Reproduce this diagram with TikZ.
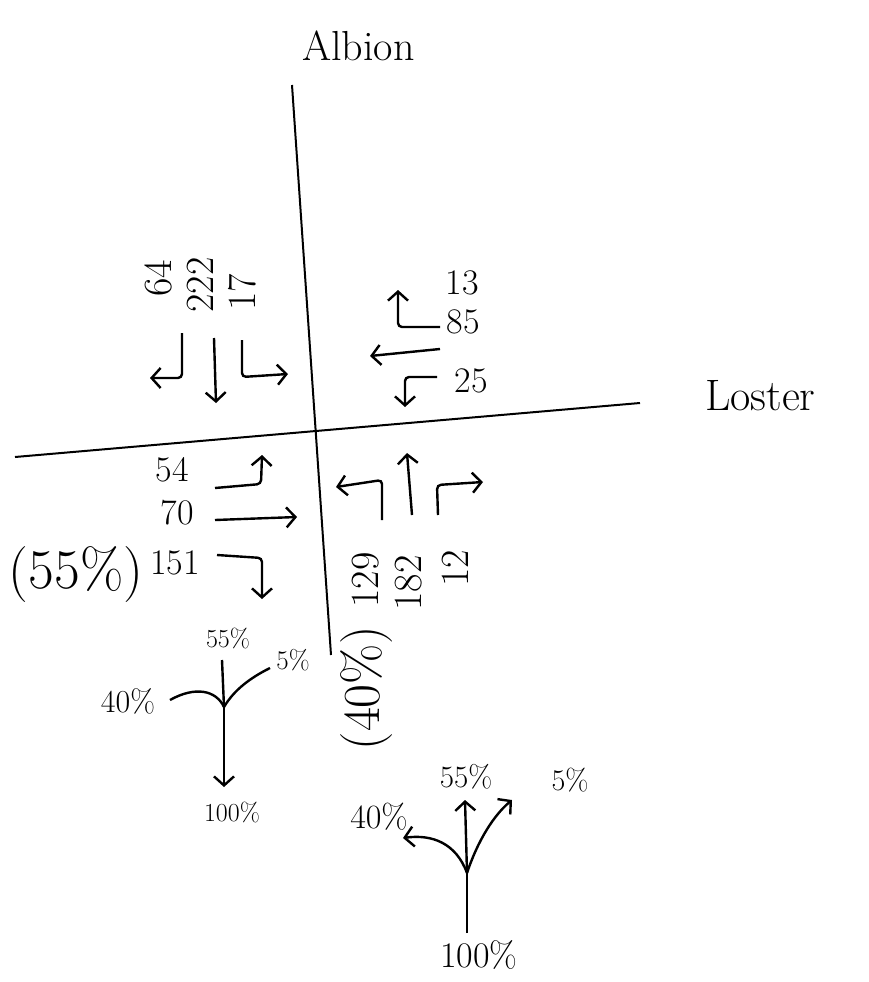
\documentclass[tikz,border=0pt]{standalone}
\usepackage{fontspec}
\usetikzlibrary{arrows.meta}
\newcommand{\fsz}[1]{\fontsize{#1}{#1}\selectfont}
\begin{document}
\begin{tikzpicture}[x=1pt,y=-1pt,
  road/.style={line width=2pt},
  mv/.style={line width=2.4pt, rounded corners=4pt, -{Straight Barb[length=9pt,width=20pt,line width=2.4pt]}},
  plainline/.style={line width=2.4pt},
  lbl/.style={inner sep=0pt, font=\fsz{36}},
  vlbl/.style={inner sep=0pt, rotate=90, font=\fsz{40}},
  pct/.style={inner sep=0pt, font=\fsz{28}}]
\useasboundingbox (0,0) rectangle (869,982);

% roads
\coordinate (aN) at (292,85); \coordinate (aS) at (331,655);
\draw[road] (aN) -- (aS);
\coordinate (lW) at (15,457); \coordinate (lE) at (640,403);
\draw[road] (lW) -- (lE);
\node[inner sep=0pt, anchor=base west, font=\fsz{42}] (albion) at (302,60) {Albion};
\node[inner sep=0pt, anchor=base west, font=\fsz{44}] (loster) at (705,410) {Loster};

% southbound (top left)
\coordinate (s1a) at (182,333); \coordinate (s1b) at (182,378); \coordinate (s1c) at (150,378);
\draw[mv] (s1a) -- (s1b) -- (s1c);
\coordinate (s2a) at (214,338); \coordinate (s2b) at (216,403);
\draw[mv] (s2a) -- (s2b);
\coordinate (s3a) at (242,340); \coordinate (s3b) at (242,377); \coordinate (s3c) at (288,374);
\draw[mv] (s3a) -- (s3b) -- (s3c);
\node[vlbl] (n64) at (158,278) {64};
\node[vlbl] (n222) at (200,285) {222};
\node[vlbl] (n17) at (242,292) {17};

% westbound (top right)
\coordinate (w1a) at (440,327); \coordinate (w1b) at (398,327); \coordinate (w1c) at (398,290);
\draw[mv] (w1a) -- (w1b) -- (w1c);
\coordinate (w2a) at (440,349); \coordinate (w2b) at (370,356);
\draw[mv] (w2a) -- (w2b);
\coordinate (w3a) at (437,377); \coordinate (w3b) at (405,377); \coordinate (w3c) at (405,407);
\draw[mv] (w3a) -- (w3b) -- (w3c);
\node[lbl] (n13) at (462,283) {13};
\node[lbl] (n85) at (463,322) {85};
\node[lbl] (n25) at (471,381) {25};

% eastbound (bottom left)
\coordinate (e1a) at (215,488); \coordinate (e1b) at (261,484); \coordinate (e1c) at (262,455);
\draw[mv] (e1a) -- (e1b) -- (e1c);
\coordinate (e2a) at (215,520); \coordinate (e2b) at (297,517);
\draw[mv] (e2a) -- (e2b);
\coordinate (e3a) at (217,555); \coordinate (e3b) at (262,558); \coordinate (e3c) at (262,599);
\draw[mv] (e3a) -- (e3b) -- (e3c);
\node[lbl] (n54) at (172,470) {54};
\node[lbl] (n70) at (177,513) {70};
\node[lbl] (n151) at (175,563) {151};
\node[inner sep=0pt, font=\fsz{56}] (p55) at (76,575) {(55\%)};

% northbound (bottom right)
\coordinate (b1a) at (382,520); \coordinate (b1b) at (382,480); \coordinate (b1c) at (336,487);
\draw[mv] (b1a) -- (b1b) -- (b1c);
\coordinate (b2a) at (412,515); \coordinate (b2b) at (407,453);
\draw[mv] (b2a) -- (b2b);
\coordinate (b3a) at (438,515); \coordinate (b3b) at (437,485); \coordinate (b3c) at (483,482);
\draw[mv] (b3a) -- (b3b) -- (b3c);
\node[vlbl] (n129) at (366,580) {129};
\node[vlbl] (n182) at (409,583) {182};
\node[vlbl] (n12) at (455,568) {12};
\node[inner sep=0pt, rotate=90, font=\fsz{52}] (p40) at (367,688) {(40\%)};

% left split
\coordinate (j1) at (224,707);
\coordinate (t1top) at (222,660); \coordinate (t1bot) at (224,787);
\coordinate (t1l) at (170,700); \coordinate (t1r) at (270,668);
\draw[plainline] (t1top) -- (j1);
\draw[mv] (j1) -- (t1bot);
\draw[plainline] (t1l) .. controls (195,686) and (216,690) .. (j1);
\draw[plainline] (j1) .. controls (234,690) and (250,678) .. (t1r);
\node[pct, font=\fsz{26}] (l55) at (228,638) {55\%};
\node[pct, font=\fsz{27}] (l5) at (293,660) {5\%};
\node[pct, font=\fsz{32}] (l40) at (128,701) {40\%};
\node[pct, font=\fsz{26}] (l100) at (232,812) {100\%};

% right split
\coordinate (j2) at (467,873);
\coordinate (t2bot) at (467,933); \coordinate (t2top) at (465,800);
\coordinate (t2l) at (403,838); \coordinate (t2r) at (512,800);
\draw[plainline] (t2bot) -- (j2);
\draw[mv] (j2) -- (t2top);
\draw[mv] (j2) .. controls (456,843) and (432,834) .. (t2l);
\draw[mv] (j2) .. controls (478,840) and (494,815) .. (t2r);
\node[pct, font=\fsz{31}] (r55) at (466,777) {55\%};
\node[pct, font=\fsz{34}] (r40) at (379,817) {40\%};
\node[pct, font=\fsz{30}] (r5) at (570,780) {5\%};
\node[pct, font=\fsz{36}] (r100) at (479,955) {100\%};
\end{tikzpicture}
\end{document}
